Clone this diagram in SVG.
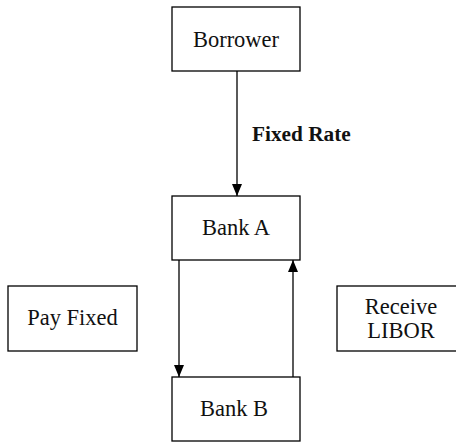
<svg xmlns="http://www.w3.org/2000/svg" width="456" height="442" viewBox="0 0 456 442">
<defs>
<marker id="ah" viewBox="0 0 12 10" refX="12" refY="5" markerWidth="12" markerHeight="10" markerUnits="userSpaceOnUse" orient="auto">
<path d="M0,0 L12,5 L0,10 Z" fill="#000"/>
</marker>
<style>
.box{fill:#fff;stroke:#000;stroke-width:1.3}
.t{font-family:"Liberation Serif",serif;font-size:22.5px;fill:#111;text-anchor:middle}
.lbl{font-family:"Liberation Serif",serif;font-size:21.3px;font-weight:bold;fill:#111}
.c{stroke:#000;stroke-width:1.3;fill:none;marker-end:url(#ah)}
</style>
</defs>
<rect width="456" height="442" fill="#fff"/>
<g id="connectors">
<line class="c" x1="237" y1="71" x2="237" y2="196"/>
<line class="c" x1="179" y1="260" x2="179" y2="377"/>
<line class="c" x1="293" y1="377" x2="293" y2="260"/>
<text class="lbl" x="252" y="141">Fixed Rate</text>
</g>
<g id="borrower">
<rect class="box" x="172" y="7" width="128" height="64"/>
<text class="t" x="236" y="47">Borrower</text>
</g>
<g id="bankA">
<rect class="box" x="172" y="196" width="128" height="64"/>
<text class="t" x="236" y="235">Bank A</text>
</g>
<g id="bankB">
<rect class="box" x="172" y="377" width="128" height="64"/>
<text class="t" x="234" y="416">Bank B</text>
</g>
<g id="payFixed">
<rect class="box" x="8" y="286" width="129" height="65"/>
<text class="t" x="72.5" y="325">Pay Fixed</text>
</g>
<g id="receiveLibor">
<rect class="box" x="337" y="286" width="125" height="65"/>
<text class="t" x="401" y="314">Receive</text>
<text class="t" x="401" y="338">LIBOR</text>
</g>
</svg>
